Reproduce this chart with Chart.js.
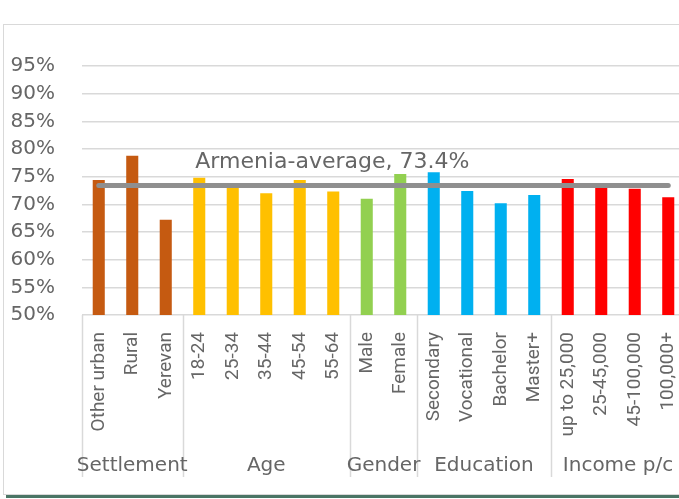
<!DOCTYPE html>
<html>
<head>
<meta charset="utf-8">
<script src="https://cdn.jsdelivr.net/npm/chart.js@4/dist/chart.umd.min.js"></script>
<style>
  html, body { margin: 0; padding: 0; overflow: hidden; background: #fff; }
  #wrap { position: relative; width: 685px; height: 499px; }
</style>
</head>
<body>
<div id="wrap"><canvas id="chart"></canvas></div>
<script>
// category labels (lower level of the axis)
const categories = [
  "Other urban", "Rural", "Yerevan",
  "18-24", "25-34", "35-44", "45-54", "55-64",
  "Male", "Female",
  "Secondary", "Vocational", "Bachelor", "Master+",
  "up to 25,000", "25-45,000", "45-100,000", "100,000+"
];

// group labels (upper level) and how many categories each covers
const groupNames = ["Settlement", "Age", "Gender", "Education", "Income p/c"];
const groupSizes = [3, 5, 2, 4, 4];
const groupColors = ["#C55A11", "#FFC000", "#92D050", "#00B0F0", "#FF0000"];

// share per category, %
const values = [
  74.4, 78.8, 67.2,
  74.8, 73.5, 72.0, 74.4, 72.3,
  71.0, 75.5,
  75.8, 72.4, 70.2, 71.7,
  74.6, 73.3, 72.8, 71.3
];

// national average
const averageValue = 73.4;
const averageLabel = "Armenia-average, 73.4%";

// y ticks
const yMin = 50;
const yMax = 95;
const yStep = 5;

// colour of every bar from its group
const barColors = [];
groupSizes.forEach((n, g) => {
  for (let i = 0; i < n; i++) barColors.push(groupColors[g]);
});

const GRID = "#d9d9d9";
const TEXT = "#666666";

// frame, group separators, group names and average label
const decorPlugin = {
  id: "decor",
  beforeDraw(chart) {
    const c = chart.ctx;
    c.save();
    c.fillStyle = "#ffffff";
    c.fillRect(0, 0, chart.width, chart.height);
    c.strokeStyle = GRID;
    c.lineWidth = 1;
    c.strokeRect(3.5, 24.5, chart.width + 10, 470);
    c.fillStyle = "#4a7565";
    c.fillRect(6, 495, chart.width, 3);
    c.restore();
  },
  afterDraw(chart) {
    const c = chart.ctx;
    const x = chart.scales.x;
    const area = chart.chartArea;
    const half = (x.getPixelForValue(1) - x.getPixelForValue(0)) / 2;
    c.save();
    // separators between groups
    c.strokeStyle = GRID;
    c.lineWidth = 1.5;
    let start = 0;
    const bounds = [];
    groupSizes.forEach((n) => {
      bounds.push([start, start + n - 1]);
      start += n;
    });
    bounds.forEach(([a, b]) => {
      const left = Math.round(x.getPixelForValue(a) - half) + 0.5;
      c.beginPath();
      c.moveTo(left, area.bottom);
      c.lineTo(left, 477);
      c.stroke();
    });
    // group names
    c.fillStyle = TEXT;
    c.font = "20px 'DejaVu Sans'";
    c.textAlign = "center";
    c.textBaseline = "alphabetic";
    bounds.forEach(([a, b], g) => {
      const cx = (x.getPixelForValue(a) + x.getPixelForValue(b)) / 2;
      c.fillText(groupNames[g], cx, 471);
    });
    // average label above the line
    const y = chart.scales.y;
    c.font = "22px 'DejaVu Sans'";
    c.textAlign = "left";
    c.fillText(averageLabel, x.getPixelForValue(3) - 4, y.getPixelForValue(averageValue) - 18);
    c.restore();
  }
};

const ctx = document.getElementById("chart").getContext("2d");
const chart = new Chart(ctx, {
  type: "bar",
  data: {
    labels: categories,
    datasets: [
      {
        type: "line",
        label: "Armenia-average",
        data: categories.map(() => averageValue),
        borderColor: "#8f8f8f",
        borderWidth: 5,
        borderCapStyle: "round",
        pointRadius: 0,
        fill: false,
        order: 0
      },
      {
        label: "Share",
        data: values,
        backgroundColor: barColors,
        borderWidth: 0,
        barPercentage: 0.36,
        categoryPercentage: 1,
        order: 1
      }
    ]
  },
  options: {
    responsive: true,
    maintainAspectRatio: false,
    animation: false,
    layout: { padding: { top: 66, left: 0, right: 0, bottom: 0 } },
    plugins: {
      legend: { display: false },
      tooltip: { enabled: false }
    },
    scales: {
      x: {
        grid: { display: false },
        border: { display: false },
        ticks: {
          color: TEXT,
          font: { family: "Roboto", size: 19 },
          maxRotation: 90,
          minRotation: 90,
          autoSkip: false,
          padding: 9
        },
        afterFit(scale) {
          scale.height = 184;
          scale.paddingLeft = 0;
          scale.paddingRight = 0;
        }
      },
      y: {
        min: yMin,
        max: yMax,
        grid: { color: GRID, lineWidth: 1.5, drawTicks: false },
        border: { display: false },
        ticks: {
          stepSize: yStep,
          color: TEXT,
          font: { family: "'DejaVu Sans'", size: 20 },
          padding: 27,
          callback: (v) => v + "%"
        },
        afterFit(scale) {
          scale.width = 82;
        }
      }
    }
  },
  plugins: [decorPlugin]
});
</script>
</body>
</html>
